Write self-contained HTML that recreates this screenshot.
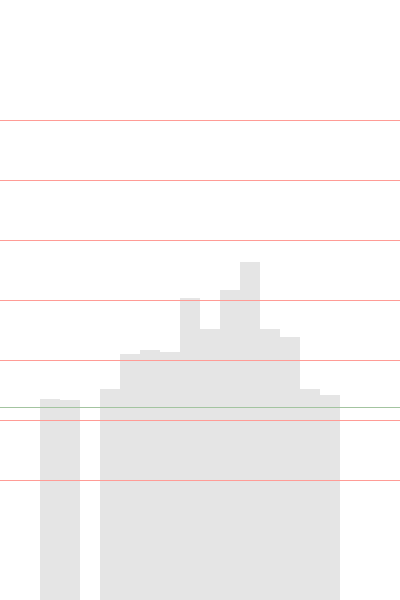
<!DOCTYPE html>
<html><head><meta charset="utf-8"><style>html,body{margin:0;padding:0;background:#fff;width:400px;height:600px;overflow:hidden}</style></head>
<body>
<svg id="chart" width="400" height="600" xmlns="http://www.w3.org/2000/svg"></svg>
<script>
const binStarts = [0,1,2,3,4,5,6,7,8,9,10,11,12,13,14];
const counts = [201,200,0,211,246,250,248,302,271,310,338,271,263,211,205];
const gridValues = [120,180,240,300,360,420,480];
const refValue = 193;
const svg = document.getElementById('chart');
const NS = 'http://www.w3.org/2000/svg';
const xs = b => 40 + b * 20;
const ys = v => 600 - v;
binStarts.forEach((b, i) => {
  if (counts[i] <= 0) return;
  const r = document.createElementNS(NS, 'rect');
  r.setAttribute('x', xs(b)); r.setAttribute('width', 20);
  r.setAttribute('y', ys(counts[i])); r.setAttribute('height', counts[i]);
  r.setAttribute('fill', '#e5e5e5');
  
  
  svg.appendChild(r);
});
gridValues.forEach(g => {
  const l = document.createElementNS(NS, 'line');
  l.setAttribute('x1', 0); l.setAttribute('x2', 400);
  l.setAttribute('y1', g + 0.5); l.setAttribute('y2', g + 0.5);
  l.setAttribute('stroke', '#ff9c96'); l.setAttribute('stroke-width', 1);
  
  
  svg.appendChild(l);
});
const rl = document.createElementNS(NS, 'line');
rl.setAttribute('x1', 0); rl.setAttribute('x2', 400);
rl.setAttribute('y1', ys(refValue) + 0.5); rl.setAttribute('y2', ys(refValue) + 0.5);
rl.setAttribute('stroke', '#a3c4a0'); rl.setAttribute('stroke-width', 1);


svg.appendChild(rl);
</script>
</body></html>
